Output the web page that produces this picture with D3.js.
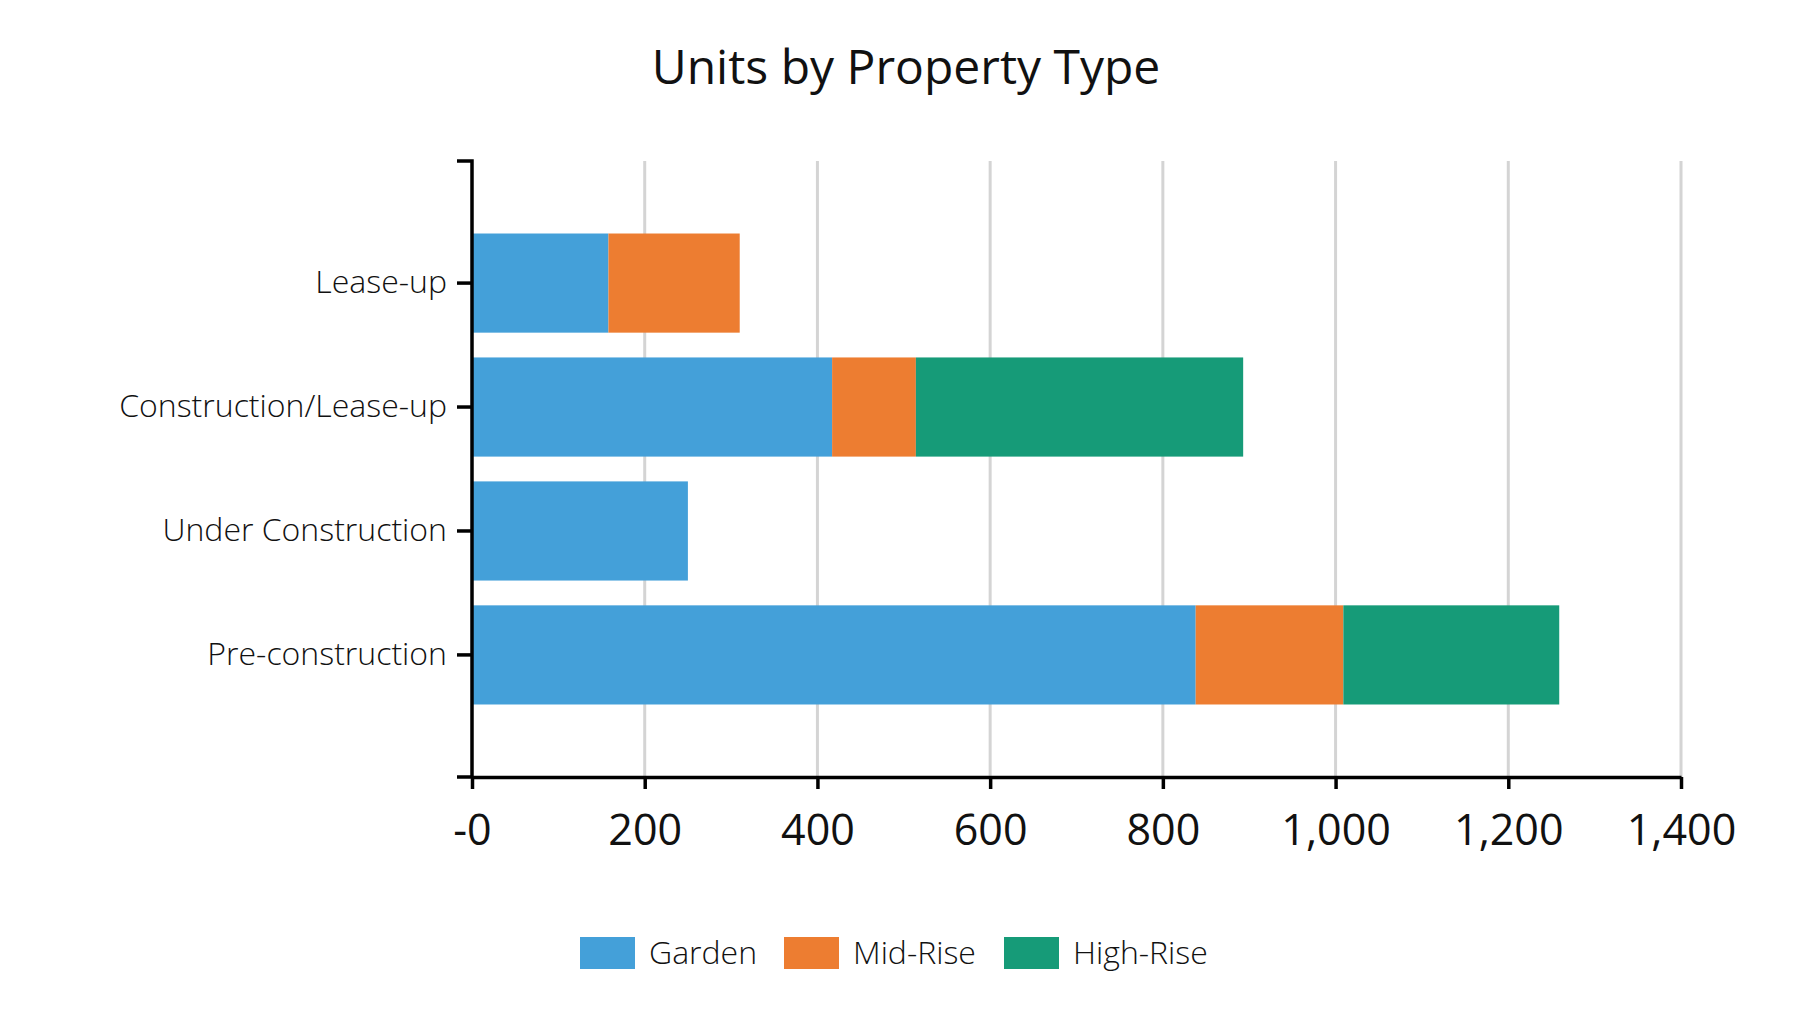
<!DOCTYPE html>
<html>
<head>
<meta charset="utf-8">
<script src="https://cdn.jsdelivr.net/npm/d3@7"></script>
<style>
  html, body { margin: 0; padding: 0; background: #fff; }
  svg { display: block; }
  text { font-family: "Open Sans", "Noto Sans", sans-serif; fill: #111; }
</style>
</head>
<body>
<svg id="chart" width="1814" height="1028"></svg>
<script>
// ---- data ----
const categories = ["Lease-up", "Construction/Lease-up", "Under Construction", "Pre-construction"];
const seriesNames = ["Garden", "Mid-Rise", "High-Rise"];
const garden = [158, 417, 250, 838];
const midRise = [152, 97, 0, 171];
const highRise = [0, 379, 0, 250];
const xTicks = [0, 200, 400, 600, 800, 1000, 1200, 1400];
const xTickLabels = ["-0", "200", "400", "600", "800", "1,000", "1,200", "1,400"];
const colors = ["#44a0d9", "#ed7d31", "#169b78"];
const title = "Units by Property Type";

// ---- build table ----
const rows = categories.map((c, i) => ({ cat: c, "Garden": garden[i], "Mid-Rise": midRise[i], "High-Rise": highRise[i] }));
const stack = d3.stack().keys(seriesNames)(rows);

const svg = d3.select("#chart");
const mLeft = 472, mRight = 1681, mTop = 161, mBottom = 777;

const x = d3.scaleLinear().domain([0, 1400]).range([mLeft, mRight]);
const y = d3.scaleBand().domain(categories).range([mTop, mBottom]).paddingInner(0.2).paddingOuter(0.585);
const color = d3.scaleOrdinal().domain(seriesNames).range(colors);

// title
svg.append("text").attr("x", 906).attr("y", 84).attr("text-anchor", "middle")
  .style("font-size", "48px").text(title);

// gridlines
svg.append("g").selectAll("line").data(xTicks.filter(d => d > 0)).join("line")
  .attr("x1", d => x(d)).attr("x2", d => x(d))
  .attr("y1", mTop).attr("y2", mBottom)
  .attr("stroke", "#d4d4d4").attr("stroke-width", 3);

// bars
svg.append("g").selectAll("g").data(stack).join("g")
  .attr("fill", d => color(d.key))
  .selectAll("rect").data(d => d.filter(s => s[1] > s[0])).join("rect")
  .attr("x", d => x(d[0]))
  .attr("width", d => x(d[1]) - x(d[0]))
  .attr("y", d => y(d.data.cat))
  .attr("height", y.bandwidth());

// x axis
const xAxis = svg.append("g").attr("transform", `translate(0,${mBottom})`)
  .call(d3.axisBottom(x).tickValues(xTicks).tickFormat((d, i) => xTickLabels[i]).tickSize(12).tickSizeOuter(0).tickPadding(0));
xAxis.select(".domain").attr("stroke", "#000").attr("stroke-width", 3.5);
xAxis.selectAll(".tick line").attr("stroke", "#000").attr("stroke-width", 3.5);
xAxis.selectAll(".tick text").attr("y", 68).attr("dy", 0)
  .style("font-size", "43px").style("font-family", "'Open Sans', sans-serif").attr("fill", "#111");

// y axis
const yAxis = svg.append("g").attr("transform", `translate(${mLeft},0)`)
  .call(d3.axisLeft(y).tickSize(15).tickSizeOuter(15).tickPadding(10));
yAxis.select(".domain").attr("stroke", "#000").attr("stroke-width", 3.5)
  .attr("d", `M-15,${mTop}H0V${mBottom}H-15`);
yAxis.selectAll(".tick line").attr("stroke", "#000").attr("stroke-width", 3.5);
yAxis.selectAll(".tick text").style("font-size", "32px").style("font-weight", 300)
  .style("font-family", "'Open Sans', sans-serif").attr("fill", "#111");

// legend
const legendX = [580, 784, 1004];
const lg = svg.append("g").selectAll("g").data(seriesNames).join("g")
  .attr("transform", (d, i) => `translate(${legendX[i]},937)`);
lg.append("rect").attr("width", 55).attr("height", 32).attr("fill", d => color(d));
lg.append("text").attr("x", 69).attr("y", 27).style("font-size", "32px").style("font-weight", 300).text(d => d);
</script>
</body>
</html>
